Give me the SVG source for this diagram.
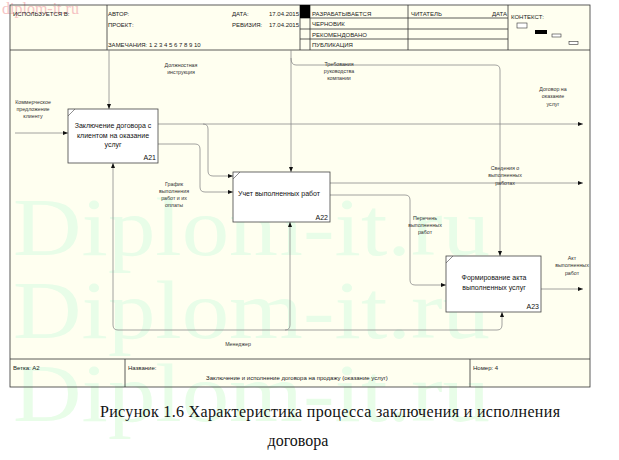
<svg xmlns="http://www.w3.org/2000/svg" width="619" height="460" viewBox="0 0 619 460">
<defs>
<marker id="ah" viewBox="0 0 10 10" refX="10" refY="5" markerWidth="5" markerHeight="5" orient="auto" markerUnits="userSpaceOnUse">
<path d="M0,1 L10,5 L0,9 z" fill="#111"/>
</marker>
<style>
.hd{font-family:"Liberation Sans",Arial,sans-serif;font-size:6px;fill:#1a1a1a}
.ft{font-family:"Liberation Sans",Arial,sans-serif;font-size:6px;fill:#1a1a1a}
.bx{fill:#fff;stroke:#444;stroke-width:0.8}
.bt{font-family:"Liberation Sans",Arial,sans-serif;font-size:7px;fill:#111}
.bn{font-family:"Liberation Sans",Arial,sans-serif;font-size:7px;fill:#111;text-anchor:end}
.lb{font-family:"Liberation Sans",Arial,sans-serif;font-size:5.3px;fill:#333;text-anchor:middle}
.cn{fill:none;stroke:#8c8c8c;stroke-width:0.8}
.ln{stroke:#333;stroke-width:0.8;fill:none}
.wm{font-family:"Liberation Serif","Times New Roman",serif;font-size:82px;fill:#e8fde8}
.cap{font-family:"Liberation Serif","Times New Roman",serif;font-size:16px;fill:#111}
</style>
</defs>
<rect x="0" y="0" width="619" height="460" fill="#fff"/>
<rect x="10" y="5" width="580" height="382" fill="#fffff0"/>
<g id="watermark">
<text class="wm" x="13" y="255" textLength="477" lengthAdjust="spacingAndGlyphs">Diplom-it.ru</text>
<text class="wm" x="13" y="338" textLength="477" lengthAdjust="spacingAndGlyphs">Diplom-it.ru</text>
<text class="wm" x="13" y="421" textLength="477" lengthAdjust="spacingAndGlyphs">Diplom-it.ru</text>
<text x="2" y="14" font-family="Liberation Serif, serif" font-size="16" fill="#f6c4c4">diplom-it.ru</text>
</g>
<g id="frame">
<rect x="10" y="5" width="580" height="382" class="ln"/>
<line x1="10" y1="50" x2="590" y2="50" class="ln"/>
<line x1="107" y1="5" x2="107" y2="50" class="ln"/>
<line x1="300" y1="5" x2="300" y2="50" class="ln"/>
<line x1="310" y1="5" x2="310" y2="50" class="ln"/>
<line x1="408" y1="5" x2="408" y2="50" class="ln"/>
<line x1="508" y1="5" x2="508" y2="50" class="ln"/>
<line x1="300" y1="18" x2="508" y2="18" class="ln"/>
<line x1="300" y1="29" x2="508" y2="29" class="ln"/>
<line x1="300" y1="39" x2="508" y2="39" class="ln"/>
<rect x="300" y="5" width="10" height="13" fill="#000"/>
<line x1="10" y1="359" x2="590" y2="359" class="ln"/>
<line x1="125" y1="359" x2="125" y2="387" class="ln"/>
<line x1="470" y1="359" x2="470" y2="387" class="ln"/>
<text class="hd" x="13" y="16">ИСПОЛЬЗУЕТСЯ В:</text>
<text class="hd" x="108" y="16">АВТОР:</text>
<text class="hd" x="108" y="27">ПРОЕКТ:</text>
<text class="hd" x="108" y="47">ЗАМЕЧАНИЯ:  1  2  3  4  5  6  7  8  9  10</text>
<text class="hd" x="232" y="16">ДАТА:</text>
<text class="hd" x="299" y="16" text-anchor="end">17.04.2015</text>
<text class="hd" x="232" y="27">РЕВИЗИЯ:</text>
<text class="hd" x="299" y="27" text-anchor="end">17.04.2015</text>
<text class="hd" x="312" y="16">РАЗРАБАТЫВАЕТСЯ</text>
<text class="hd" x="312" y="26">ЧЕРНОВИК</text>
<text class="hd" x="312" y="36.5">РЕКОМЕНДОВАНО</text>
<text class="hd" x="312" y="47">ПУБЛИКАЦИЯ</text>
<text class="hd" x="411" y="16">ЧИТАТЕЛЬ</text>
<text class="hd" x="507" y="16" text-anchor="end">ДАТА</text>
<text class="hd" x="511" y="19" font-size="7">КОНТЕКСТ:</text>
<rect x="517" y="23" width="10" height="5" fill="#fff" stroke="#333" stroke-width="0.6"/>
<rect x="535" y="30" width="12" height="4" fill="#000"/>
<rect x="552" y="34" width="9" height="3" fill="#fff" stroke="#333" stroke-width="0.6"/>
<rect x="569" y="41.5" width="9" height="3" fill="#fff" stroke="#333" stroke-width="0.6"/>
<text class="ft" x="13" y="370">Ветка: A2</text>
<text class="ft" x="128" y="370">Название:</text>
<text class="ft" x="297" y="380" text-anchor="middle">Заключение и исполнение договора на продажу (оказание услуг)</text>
<text class="ft" x="473" y="370">Номер: 4</text>
</g>
<g id="connectors">
<path class="cn" d="M15,133 H68" marker-end="url(#ah)"/>
<path class="cn" d="M109,50 V109" marker-end="url(#ah)"/>
<path class="cn" d="M291,50 V172" marker-end="url(#ah)"/>
<path class="cn" d="M291,58 Q291,65 296,65 H495 Q500,65 500,70 V256" marker-end="url(#ah)"/>
<path class="cn" d="M158,124 H583" marker-end="url(#ah)"/>
<path class="cn" d="M203,124 Q208,124 208,129 V171 Q208,176 213,176 H233" marker-end="url(#ah)"/>
<path class="cn" d="M158,144 H195 Q200,144 200,149 V187 Q200,192 205,192 H233" marker-end="url(#ah)"/>
<path class="cn" d="M330,183 H583" marker-end="url(#ah)"/>
<path class="cn" d="M330,195 H405 Q410,195 410,200 V280 Q410,285 415,285 H446" marker-end="url(#ah)"/>
<path class="cn" d="M541,289 H583" marker-end="url(#ah)"/>
<path class="cn" d="M118,330 H497"/>
<path class="cn" d="M118,330 Q113,330 113,325 V163" marker-end="url(#ah)"/>
<path class="cn" d="M285,330 Q290,330 290,325 V222" marker-end="url(#ah)"/>
<path class="cn" d="M497,330 Q502,330 502,325 V312" marker-end="url(#ah)"/>
<text class="lb" x="33" y="104">Коммерческое</text>
<text class="lb" x="33" y="111">предложение</text>
<text class="lb" x="33" y="118">клиенту</text>
<text class="lb" x="181" y="67">Должностная</text>
<text class="lb" x="181" y="74">инструкция</text>
<text class="lb" x="339" y="66">Требования</text>
<text class="lb" x="339" y="73">руководства</text>
<text class="lb" x="339" y="80">компании</text>
<text class="lb" x="553" y="91">Договор на</text>
<text class="lb" x="553" y="98">оказание</text>
<text class="lb" x="553" y="106">услуг</text>
<text class="lb" x="174" y="186">График</text>
<text class="lb" x="174" y="193">выполнения</text>
<text class="lb" x="174" y="200">работ и их</text>
<text class="lb" x="174" y="207">оплаты</text>
<text class="lb" x="505" y="170">Сведения о</text>
<text class="lb" x="505" y="177">выполненных</text>
<text class="lb" x="505" y="185">работах</text>
<text class="lb" x="425" y="220">Перечень</text>
<text class="lb" x="425" y="227">выполненных</text>
<text class="lb" x="425" y="234">работ</text>
<text class="lb" x="572" y="260">Акт</text>
<text class="lb" x="572" y="267">выполненных</text>
<text class="lb" x="572" y="275">работ</text>
<text class="lb" x="238" y="346">Менеджер</text>
</g>
<g id="A21">
<rect class="bx" x="68" y="109" width="90" height="54"/>
<line x1="68" y1="116" x2="75" y2="109" stroke="#444" stroke-width="0.6"/>
<text class="bt" x="113" y="127.5" text-anchor="middle">Заключение договора с</text>
<text class="bt" x="113" y="137.5" text-anchor="middle">клиентом на оказание</text>
<text class="bt" x="113" y="147" text-anchor="middle">услуг</text>
<text class="bn" x="156" y="160">A21</text>
</g>
<g id="A22">
<rect class="bx" x="233" y="172" width="97" height="50"/>
<line x1="233" y1="179" x2="240" y2="172" stroke="#444" stroke-width="0.6"/>
<text class="bt" x="238" y="196">Учет выполненных работ</text>
<text class="bn" x="328" y="220">A22</text>
</g>
<g id="A23">
<rect class="bx" x="446" y="256" width="95" height="56"/>
<line x1="446" y1="263" x2="453" y2="256" stroke="#444" stroke-width="0.6"/>
<text class="bt" x="494" y="280" text-anchor="middle">Формирование акта</text>
<text class="bt" x="494" y="289.5" text-anchor="middle">выполненных услуг</text>
<text class="bn" x="539" y="309">A23</text>
</g>
<g id="caption">
<text class="cap" x="100" y="417" textLength="460" lengthAdjust="spacing">Рисунок 1.6 Характеристика процесса заключения и исполнения</text>
<text class="cap" x="298" y="446" text-anchor="middle">договора</text>
</g>
</svg>
